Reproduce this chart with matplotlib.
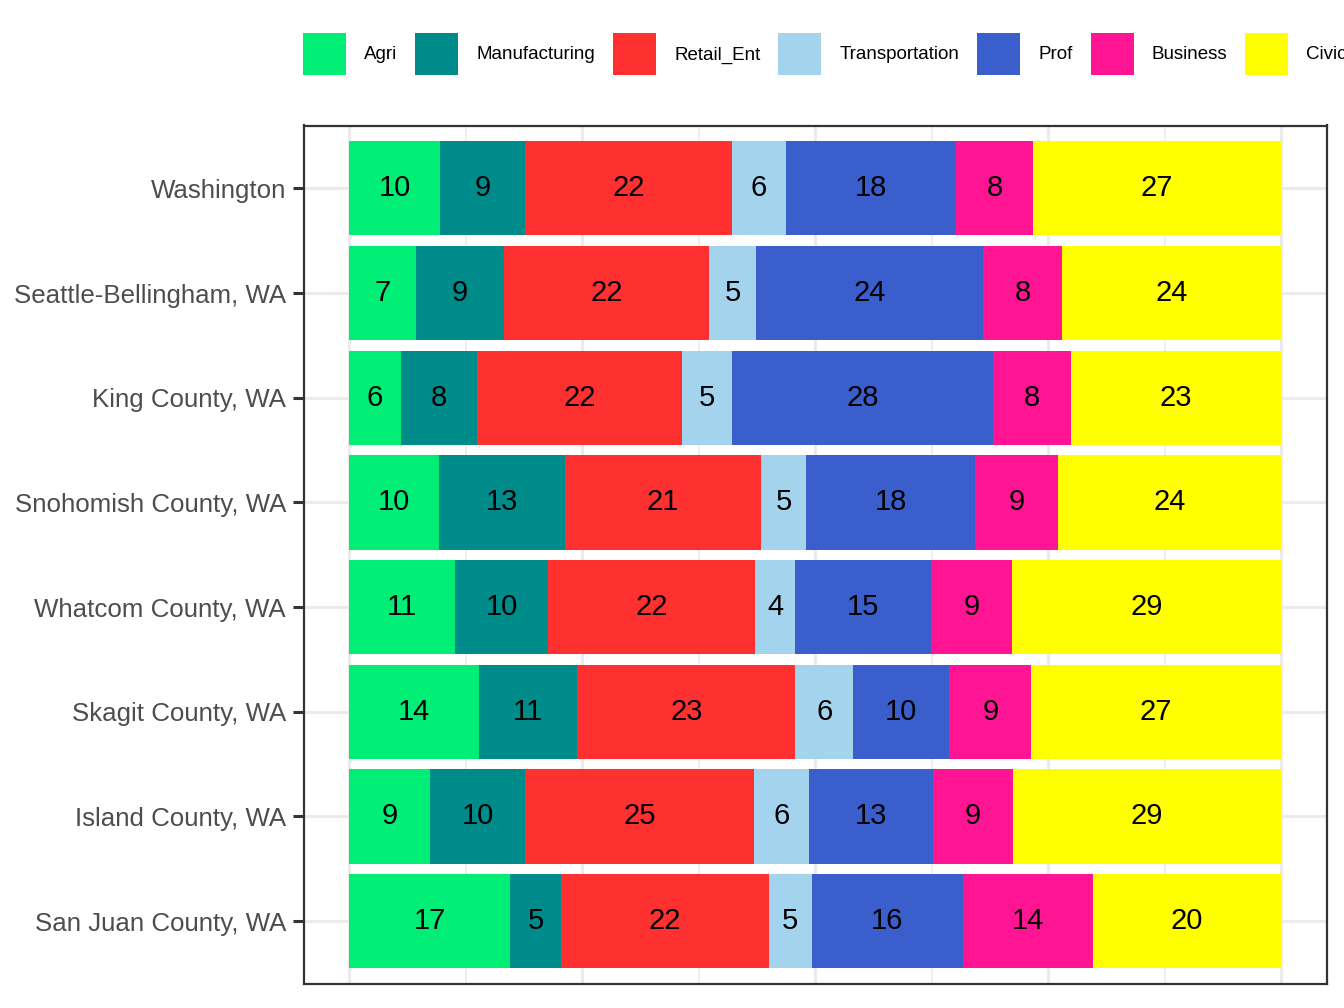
import numpy as np
import matplotlib.pyplot as plt
from matplotlib.patches import Patch
from matplotlib.ticker import MultipleLocator

plt.rcParams['font.family'] = ['Liberation Sans', 'DejaVu Sans']

# areas, top to bottom
areas = ['Washington', 'Seattle-Bellingham, WA', 'King County, WA',
         'Snohomish County, WA', 'Whatcom County, WA', 'Skagit County, WA',
         'Island County, WA', 'San Juan County, WA']
sectors = ['Agri', 'Manufacturing', 'Retail_Ent', 'Transportation',
           'Prof', 'Business', 'Civic']
colors = ['#00EE76', '#008B8B', '#FF3030', '#A4D3EE',
          '#3A5FCD', '#FF1493', '#FFFF00']

# share of jobs (%) per sector, one list per sector, same order as areas
agri           = [9.8, 7.2, 5.6, 9.7, 11.4, 13.9, 8.7, 17.3]
manufacturing  = [9.1, 9.4, 8.1, 13.4, 10.0, 10.6, 10.2, 5.4]
retail_ent     = [22.2, 22.0, 22.1, 21.1, 22.2, 23.4, 24.6, 22.3]
transportation = [5.8, 5.0, 5.3, 4.8, 4.4, 6.2, 5.9, 4.6]
prof           = [18.2, 24.4, 28.1, 18.1, 14.6, 10.3, 13.3, 16.2]
business       = [8.3, 8.4, 8.3, 8.9, 8.7, 8.8, 8.6, 13.9]
civic          = [26.6, 23.5, 22.6, 23.9, 28.9, 26.8, 28.8, 20.2]

vals = np.array([agri, manufacturing, retail_ent, transportation,
                 prof, business, civic])
shares = vals / vals.sum(axis=0)   # position = "fill"

fig = plt.figure(figsize=(13.44, 10.08), dpi=100)
ax = fig.add_axes([304/1344, 1 - 984/1008, (1327-304)/1344, (984-125.5)/1008])

y = np.arange(len(areas))[::-1]
left = np.zeros(len(areas))
for i, sec in enumerate(sectors):
    ax.barh(y, shares[i], left=left, height=0.9, color=colors[i],
            label=sec, zorder=2)
    for j in range(len(areas)):
        ax.text(left[j] + shares[i][j] / 2, y[j], f'{round(vals[i][j]):d}',
                ha='center', va='center', fontsize=21, color='black', zorder=3)
    left += shares[i]

ax.set_xlim(-45/932, 1 + 46/932)
ax.set_ylim(-0.6, len(areas) - 0.4)
ax.set_yticks(y)
ax.set_yticklabels(areas, fontsize=18.6, color='#4D4D4D')
ax.xaxis.set_major_locator(MultipleLocator(0.25))
ax.xaxis.set_minor_locator(MultipleLocator(0.125))
ax.tick_params(axis='x', which='both', bottom=False, labelbottom=False)
ax.tick_params(axis='y', length=8, width=2.2, color='#333333', pad=5)
ax.grid(axis='x', which='major', color='#EBEBEB', lw=2.2, zorder=0)
ax.grid(axis='x', which='minor', color='#EBEBEB', lw=1.1, zorder=0)
ax.grid(axis='y', which='major', color='#EBEBEB', lw=2.2, zorder=0)
ax.set_axisbelow(True)
for s in ax.spines.values():
    s.set_color('#333333')
    s.set_linewidth(1.6)

handles = [Patch(facecolor=c, edgecolor='none') for c in colors]
fs = 13.5
fig.legend(handles, sectors, loc='center left', ncol=7,
           bbox_to_anchor=(303/1344, 1 - 54/1008), frameon=False,
           fontsize=fs, handlelength=43/18.75, handleheight=3.15,
           handletextpad=18/18.75, columnspacing=18/18.75,
           borderpad=0, borderaxespad=0)

fig.savefig('out.png', dpi=100)
